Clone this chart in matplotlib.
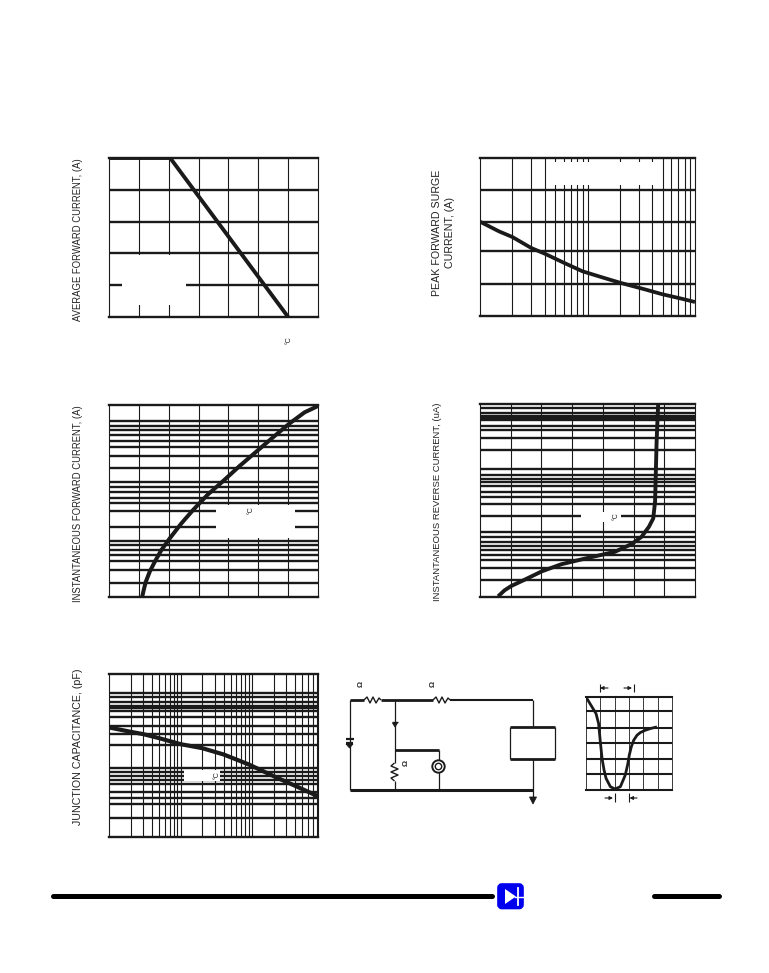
import matplotlib
matplotlib.use("Agg")
import matplotlib.pyplot as plt
from matplotlib.patches import Rectangle, Circle, FancyBboxPatch, Polygon

W, H = 769, 973
INK = "#1a1a1a"
plt.rcParams["font.family"] = ["Liberation Sans", "DejaVu Sans"]

# horizontal grid levels and curves, read off the crops (no scale printed on the page)
# Average forward current
avg_columns = [1, 2, 3, 4, 5, 6]
avg_rows = [1, 2, 3, 4]
avg_temp = [0, 2.05, 6.0]
avg_current = [5, 5, 0]

# Instantaneous forward current
fwd_columns = [1, 2, 3, 4, 5, 6]
fwd_rows = [562, 523, 498, 480, 463, 450, 437, 395, 348, 322, 308, 290, 275, 262,
            220, 182, 155, 138, 120, 105, 92, 78]
fwd_volts = [1.11, 1.16, 1.23, 1.36, 1.53, 1.75, 2.03, 2.42, 2.81, 3.31, 3.82, 4.37,
             4.93, 5.49, 6.05, 6.55, 7.0]
fwd_amps = [605, 585, 560, 530, 500, 465, 430, 385, 345, 298, 258, 213, 170, 127, 85, 52, 33]

# Junction capacitance
cap_columns = [2, 3, 4, 5, 6, 7, 8, 9, 10, 20, 30, 40, 50, 60, 70, 80, 90, 100,
               200, 300, 400, 500, 600, 700, 800]
cap_rows = [100, 112, 125, 138, 145, 152, 172, 198, 222, 256, 322, 335, 347, 358,
            370, 395, 412, 432, 472]
cap_volts = [1, 2, 3, 5, 10, 20, 40, 90, 200, 400, 830]
cap_pf = [202, 215, 222, 234, 252, 264, 283, 313, 348, 377, 408]

# Peak forward surge current
surge_columns = [2, 3, 4, 5, 6, 7, 8, 9, 10, 20, 30, 40, 50, 60, 70, 80, 90]
surge_rows = [133, 229, 316, 415]
surge_cycles = [1, 1.5, 2, 3, 4, 6, 9, 14, 20, 35, 50, 75, 100]
surge_amps = [229, 258, 275, 308, 325, 352, 378, 397, 412, 433, 447, 460, 470]

# Instantaneous reverse current
rev_columns = [1, 2, 3, 4, 5, 6]
rev_rows = [40, 55, 64, 70, 76, 95, 105, 130, 166, 222, 240, 252, 262, 272, 290, 305,
            328, 364, 412, 427, 441, 452, 465, 480, 495, 518, 553]
rev_volts = [0.59, 0.80, 1.02, 1.46, 2.02, 2.65, 3.52, 4.39, 4.93, 5.26, 5.5, 5.64,
             5.70, 5.72, 5.75, 5.80]
rev_amps = [603, 585, 572, 553, 528, 507, 488, 470, 447, 425, 395, 370, 320, 250, 140, 30]

# Reverse recovery trace
wave_columns = [1, 2, 3, 4, 5]
wave_rows = [108, 157, 205, 253, 296]
wave_time = [0, 0.42, 0.7, 0.88, 1.0, 1.12, 1.26, 1.4, 1.7, 2.02, 2.4, 2.74, 2.9, 3.02,
             3.16, 3.33, 3.56, 3.79, 4.14, 4.49, 4.95]
wave_level = [65, 95, 115, 145, 200, 250, 285, 310, 335, 342, 335, 300, 270, 240,
              215, 195, 180, 172, 165, 160, 155]

fig = plt.figure(figsize=(W / 100, H / 100), dpi=100, facecolor="white")


def panel(box, ylim, columns, rows, xlim, xscale="linear", hline=1.7, vline=0.8):
    left, top, right, bottom = box
    ax = fig.add_axes([left / W, 1 - bottom / H, (right - left) / W, (bottom - top) / H])
    ax.set_xscale(xscale)
    ax.set_xlim(xlim)
    ax.set_ylim(ylim)
    ax.set_xticks([])
    ax.set_yticks([])
    ax.minorticks_off()
    for s in ax.spines.values():
        s.set_linewidth(hline)
        s.set_color(INK)
    for s in ("left", "right"):
        ax.spines[s].set_linewidth(vline)
    for x in columns:
        ax.axvline(x, color=INK, lw=vline, zorder=1)
    for y in rows:
        ax.axhline(y, color=INK, lw=hline, zorder=1)
    return ax


def blank(ax, x0, x1, y0, y1):
    # white patches where the legend text used to be
    ax.add_patch(Rectangle((x0, y0), x1 - x0, y1 - y0, fc="white", ec="none", zorder=2))


def curve(ax, x, y, lw=2.5):
    ax.plot(x, y, color=INK, lw=lw, zorder=3, solid_capstyle="butt", solid_joinstyle="round")


def rot_text(x, y, s, size=6.85, **kw):
    fig.text(x / W, 1 - y / H, s, rotation=90, ha="center", va="center", fontsize=size,
             color="#222222", **kw)


# top left
ax = panel((109, 158, 318, 317), (0, 5), avg_columns, avg_rows, (0, 7))
blank(ax, 0.42, 2.57, 0.37, 1.95)
curve(ax, avg_temp, avg_current, 2.8)
rot_text(78, 239.5, "AVERAGE FORWARD CURRENT, (A)")
rot_text(289, 340, "°C", 5)

# middle left
ax = panel((109, 405, 318, 597), (605, 30), fwd_columns, fwd_rows, (0, 7))
blank(ax, 3.57, 6.24, 428, 330)
curve(ax, fwd_volts, fwd_amps, 2.9)
rot_text(78, 503.5, "INSTANTANEOUS FORWARD CURRENT, (A)")
rot_text(251, 510, "°C", 5)

# bottom left
ax = panel((109, 674, 318, 837), (530, 42), cap_columns, cap_rows, (1, 830), "log")
blank(ax, 11, 36, 362, 330)
curve(ax, cap_volts, cap_pf, 3.0)
rot_text(78, 746.5, "JUNCTION CAPACITANCE, (pF)", 7.7)
rot_text(217, 775, "°C", 5)

# top right
ax = panel((480, 158, 695, 316), (512, 38), surge_columns, surge_rows, (1, 100), "log")
blank(ax, 4.3, 42, 118, 50)
curve(ax, surge_cycles, surge_amps, 2.7)
rot_text(437, 233, "PEAK FORWARD SURGE", 7.7)
rot_text(450, 233, "CURRENT, (A)", 7.7)

# middle right
ax = panel((480, 404, 695, 597), (605, 28), rev_columns, rev_rows, (0, 7))
blank(ax, 3.3, 4.6, 380, 350)
curve(ax, rev_volts, rev_amps, 2.8)
rot_text(437, 502, "INSTANTANEOUS REVERSE CURRENT, (uA)", 6.8)
rot_text(616, 516, "°C", 5)

# recovery trace
ax = panel((586, 697, 672, 790), (345, 65), wave_columns, wave_rows, (0, 6), hline=1.5, vline=0.6)
curve(ax, wave_time, wave_level, 2.0)

# page overlay in pixels: schematic, arrows, footer
page = fig.add_axes([0, 0, 1, 1], facecolor="none")
page.set_xlim(0, W)
page.set_ylim(H, 0)
page.axis("off")


def wire(xs, ys, lw=0.9):
    page.plot(xs, ys, color=INK, lw=lw, solid_capstyle="butt")


thick = 2.0
wire([349.5, 364], [700, 700], thick)
wire([364, 367, 370, 373, 376, 379, 381], [700, 697, 703, 697, 703, 698, 700], 1.0)
wire([381, 433], [700, 700], thick)
wire([433, 436, 439, 442, 445, 448, 450], [700, 697, 703, 697, 703, 698, 700], 1.0)
wire([450, 533], [700, 700], 1.5)
wire([349.5, 349.5], [700, 790])
wire([349.5, 533], [790, 790], 2.2)
wire([394.5, 394.5], [700, 763])
wire([394.5, 391, 398, 391, 398, 391, 394.5], [763, 766, 769, 772, 775, 778, 781], 1.0)
wire([394.5, 394.5], [781, 790])
wire([394.5, 438.5], [750, 750], thick)
wire([438.5, 438.5], [750, 790])
wire([533, 533], [700, 727])
wire([533, 533], [759, 797])
wire([509.5, 555], [727, 727], 2.0)
wire([509.5, 555], [759, 759], 2.0)
wire([509.5, 509.5], [727, 759])
wire([555, 555], [727, 759])
page.add_patch(Circle((438.5, 766.5), 6.2, fc="white", ec=INK, lw=1.4, zorder=3))
page.add_patch(Circle((438.5, 766.5), 3.2, fc="white", ec=INK, lw=1.0, zorder=4))
page.add_patch(Polygon([(392.5, 723), (397.5, 723), (395, 727)], fc=INK, ec=INK, lw=0.6))
wire([392, 398], [722, 722], 1.0)
# battery and ground
wire([345.5, 353.5], [739, 739], 1.6)
wire([346, 353], [743, 743], 1.6)
page.add_patch(Polygon([(346, 744), (353, 744), (349.5, 748)], fc=INK, ec=INK, lw=0.6))
page.add_patch(Polygon([(529.5, 797), (536.5, 797), (533, 804)], fc=INK, ec=INK, lw=0.6))
for x, y in [(361.5, 684), (433.5, 684), (406.5, 762.5)]:
    rot_text(x, y, "Ω", 5.5, fontweight="bold")

# time markers around the trace
for x, y0, y1 in [(599.5, 684, 692), (633.5, 684, 692), (614.5, 793, 802), (628.5, 793, 802)]:
    wire([x, x], [y0, y1], 0.8)
for x0, x1, y in [(608, 600, 688), (624, 632, 688), (605, 613, 798), (637, 629.5, 798)]:
    page.annotate("", (x1, y), (x0, y), arrowprops=dict(arrowstyle="-|>", color=INK, lw=0.8,
                                                        mutation_scale=5, shrinkA=0, shrinkB=0))

# footer rule and logo
page.plot([53, 492], [896, 896], color="black", lw=3.6, solid_capstyle="round")
page.plot([654, 719], [896, 896], color="black", lw=3.6, solid_capstyle="round")
page.add_patch(FancyBboxPatch((501, 887), 19, 18.5, boxstyle="round,pad=0,rounding_size=1",
                              mutation_aspect=1, fc="#0000ee", ec="#0000ee", lw=5.5))
page.add_patch(Polygon([(505, 889), (505, 904), (516, 896.5)], fc="white", ec="none", zorder=5))
page.plot([517.5, 517.5], [888, 905], color="white", lw=1.3, zorder=5)
page.plot([515, 524], [896.5, 896.5], color="white", lw=1.0, zorder=5)

fig.savefig("out.png", dpi=100, facecolor="white")
